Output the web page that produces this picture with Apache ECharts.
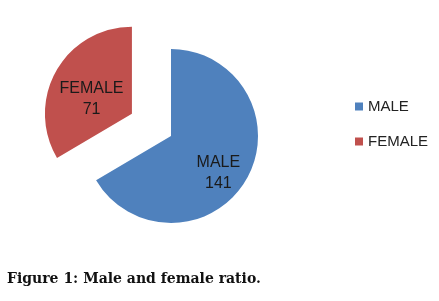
<!DOCTYPE html>
<html>
<head>
<meta charset="utf-8">
<script src="https://cdn.jsdelivr.net/npm/echarts@6/dist/echarts.min.js"></script>
<style>
  html, body { margin: 0; padding: 0; background: #fff; }
  #chart { width: 439px; height: 301px; }
</style>
</head>
<body>
<div id="chart"></div>
<script>
  // 数据
  const categories = ['MALE', 'FEMALE']
  const values = [141, 71]
  const colors = ['#4F81BD', '#C0504D']
  // 被拉出的扇区
  const exploded = [false, true]

  const chart = echarts.init(document.getElementById('chart'))

  const pieData = categories.map((name, i) => ({
    name: name,
    value: values[i],
    selected: exploded[i],
    itemStyle: { color: colors[i] },
  }))

  const option = {
    animation: false,
    title: {
      text: 'Figure 1: Male and female ratio.',
      left: 2,
      top: 267,
      textStyle: {
        fontFamily: 'DejaVu Serif',
        fontWeight: 'bold',
        fontSize: 14,
        color: '#111',
      },
    },
    legend: {
      orient: 'vertical',
      left: 350,
      top: 94,
      itemWidth: 8,
      itemHeight: 8,
      itemGap: 20,
      icon: 'rect',
      data: categories,
      selectedMode: false,
      textStyle: {
        fontFamily: 'Liberation Sans',
        fontSize: 15,
        color: '#222',
      },
    },
    series: [
      {
        type: 'pie',
        center: [171, 136],
        radius: 87,
        startAngle: 90,
        clockwise: true,
        selectedMode: 'single',
        selectedOffset: 45,
        emphasis: { disabled: true },
        label: {
          show: true,
          position: 'inside',
          formatter: '{b}\n{c}',
          fontFamily: 'Liberation Sans',
          fontSize: 16,
          lineHeight: 21,
          color: '#1a1a1a',
        },
        labelLine: { show: false },
        // 微调标签位置
        labelLayout: function (params) {
          if (params.dataIndex === 0) {
            return { dx: 7, dy: 14 }
          }
          return { dx: 0, dy: 8 }
        },
        data: pieData,
      },
    ],
  }
  chart.setOption(option)
</script>
</body>
</html>
